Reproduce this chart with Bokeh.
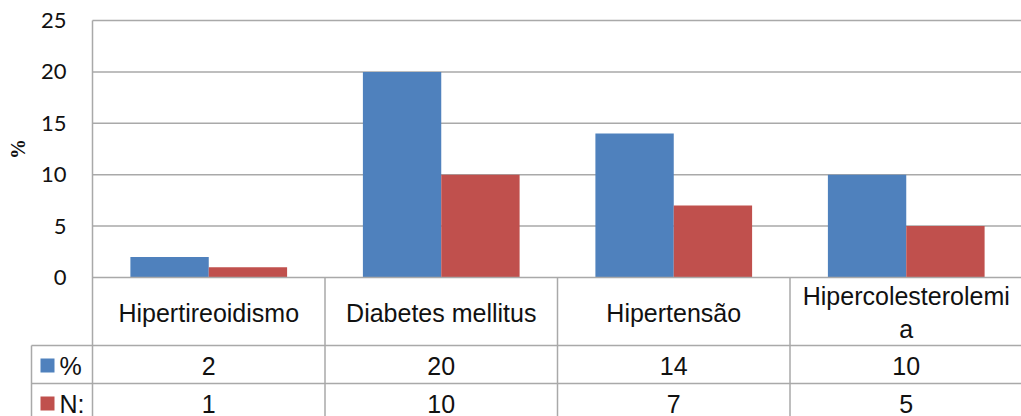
from bokeh.plotting import figure
from bokeh.models import Range1d, LinearAxis, FixedTicker
from bokeh.core.properties import value
from bokeh.embed import file_html
from bokeh.resources import INLINE

# --- data -------------------------------------------------------------
categories = ["Hipertireoidismo", "Diabetes mellitus", "Hipertensão", "Hipercolesterolemi\na"]
pct_values = [2, 20, 14, 10]
n_values = [1, 10, 7, 5]
series_names = ["%", "N:"]
y_ticks = [0, 5, 10, 15, 20, 25]

# --- layout constants (pixels) ----------------------------------------
W, H = 1021, 416
PLOT_LEFT = 92          # left edge of plot area
CAT_W = 232.5           # width of one category column
Y0_PX = 277             # pixel row of value 0
YTOP_PX = 20            # pixel row of value 25
PPU = (Y0_PX - YTOP_PX) / 25.0
KEY_LEFT = 31           # left edge of the legend column of the table
ROW1_BOTTOM = 345       # bottom of category label row
ROW2_BOTTOM = 383       # bottom of the "%" row
ROW_H = ROW2_BOTTOM - ROW1_BOTTOM

BLUE = "#4F81BD"
RED = "#C0504D"
LINE = "#A9A9A9"
TXT = "#111111"


def px2x(px):
    return (px - PLOT_LEFT) / CAT_W


def py2y(py):
    return (Y0_PX - py) / PPU


p = figure(
    width=W, height=H,
    x_axis_type=None, y_axis_type=None,
    x_range=Range1d(px2x(0), px2x(W)),
    y_range=Range1d(py2y(H), py2y(0)),
    output_backend="svg", toolbar_location=None,
    min_border=0, outline_line_color=None,
    background_fill_color="white", border_fill_color="white",
)
p.xgrid.visible = False
p.ygrid.visible = False

n_cat = len(categories)
x_right = px2x(W + 5)

# horizontal gridlines of the plot area
grid_y = [t for t in y_ticks if t > 0]
p.segment(x0=[0] * len(grid_y), y0=grid_y, x1=[x_right] * len(grid_y), y1=grid_y,
          line_color=LINE, line_width=1.5)

# bars
bar_w = 0.337
centers = [i + 0.5 for i in range(n_cat)]
p.vbar(x=[c - bar_w / 2 for c in centers], top=pct_values, width=bar_w, bottom=0,
       fill_color=BLUE, line_color=None)
p.vbar(x=[c + bar_w / 2 for c in centers], top=n_values, width=bar_w, bottom=0,
       fill_color=RED, line_color=None)

# data table lines
yb = py2y(H + 5)
h_lines = [
    (0, 0, x_right, 0),
    (px2x(KEY_LEFT), py2y(ROW1_BOTTOM), x_right, py2y(ROW1_BOTTOM)),
    (px2x(KEY_LEFT), py2y(ROW2_BOTTOM), x_right, py2y(ROW2_BOTTOM)),
]
v_lines = [(0, py2y(YTOP_PX), 0, yb), (px2x(KEY_LEFT), py2y(ROW1_BOTTOM), px2x(KEY_LEFT), yb)]
v_lines += [(float(i), 0, float(i), yb) for i in range(1, n_cat + 1)]
segs = h_lines + v_lines
p.segment(x0=[s[0] for s in segs], y0=[s[1] for s in segs],
          x1=[s[2] for s in segs], y1=[s[3] for s in segs],
          line_color=LINE, line_width=1.5)

font = value("Liberation Sans")
row1_mid = py2y((Y0_PX + ROW1_BOTTOM) / 2 + 1)
row2_mid = py2y(ROW1_BOTTOM + ROW_H / 2 + 1)
row3_mid = py2y(ROW2_BOTTOM + ROW_H / 2 + 1)

p.text(x=centers, y=[row1_mid] * n_cat, text=categories, text_font=font,
       text_font_size="25px", text_align="center", text_baseline="middle",
       text_color=TXT, text_line_height=1.2)
p.text(x=centers, y=[row2_mid] * n_cat, text=[str(v) for v in pct_values], text_font=font,
       text_font_size="25px", text_align="center", text_baseline="middle", text_color=TXT)
p.text(x=centers, y=[row3_mid] * n_cat, text=[str(v) for v in n_values], text_font=font,
       text_font_size="25px", text_align="center", text_baseline="middle", text_color=TXT)

# legend keys in the table
key_x = px2x(47)
p.scatter(x=[key_x, key_x], y=[row2_mid, row3_mid], marker="square", size=14,
          fill_color=[BLUE, RED], line_color=None)
p.text(x=[px2x(59)] * 2, y=[row2_mid, row3_mid], text=series_names, text_font=font,
       text_font_size="25px", text_align="left", text_baseline="middle", text_color=TXT)

# value axis
yaxis = LinearAxis(
    fixed_location=0,
    bounds=(min(y_ticks), max(y_ticks)),
    ticker=FixedTicker(ticks=y_ticks),
    axis_line_color=None,
    major_tick_out=0, major_tick_in=0, minor_tick_out=0, minor_tick_in=0,
    major_label_standoff=26,
    major_label_text_font="Lato", major_label_text_font_size="22px",
    major_label_text_color=TXT,
    axis_label="%", axis_label_text_font="Liberation Serif",
    axis_label_text_font_style="bold", axis_label_text_font_size="20px",
    axis_label_standoff=9, axis_label_text_color=TXT,
)
p.add_layout(yaxis, "left")

open("out.html", "w").write(file_html(p, INLINE))
